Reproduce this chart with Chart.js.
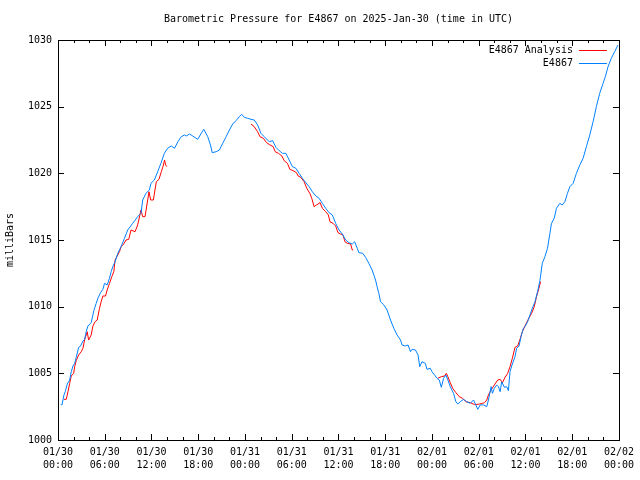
<!DOCTYPE html>
<html>
<head>
<meta charset="utf-8">
<script src="https://cdn.jsdelivr.net/npm/chart.js@4"></script>
<style>
html,body{margin:0;padding:0;background:#fff;}
#wrap{width:640px;height:480px;}
</style>
</head>
<body>
<div id="wrap"><canvas id="c" width="640" height="480"></canvas></div>
<script>
const chartTitle = 'Barometric Pressure for E4867 on 2025-Jan-30 (time in UTC)';
const yAxisTitle = 'milliBars';
const obsLabel = 'E4867';
const anaLabel = 'E4867 Analysis';

// x tick labels every 6 hours from 01/30 00:00 (hours since start)
const xTickHours = [0, 6, 12, 18, 24, 30, 36, 42, 48, 54, 60, 66, 72];
const xTickDates = ['01/30','01/30','01/30','01/30','01/31','01/31','01/31','01/31','02/01','02/01','02/01','02/01','02/02'];
const xTickTimes = ['00:00','06:00','12:00','18:00','00:00','06:00','12:00','18:00','00:00','06:00','12:00','18:00','00:00'];
const yTicks = [1000, 1005, 1010, 1015, 1020, 1025, 1030];

// Observations (hours since 01/30 00:00 UTC, mbar)
const obsHours = [0.35,0.51,0.77,0.93,1.19,1.50,1.70,1.92,2.14,2.34,2.65,2.90,3.20,3.41,3.62,3.84,4.26,4.60,4.90,5.12,5.46,5.76,5.97,6.31,6.61,6.82,7.03,7.33,7.67,8.10,8.53,8.95,9.59,10.23,10.65,10.87,11.29,11.73,11.93,12.37,12.79,13.21,13.65,14.07,14.54,14.96,15.39,15.82,16.24,16.46,16.88,17.30,17.94,18.38,18.71,19.22,19.57,19.79,20.30,20.72,21.14,21.58,22.00,22.42,22.85,23.28,23.57,23.92,24.34,24.77,25.19,25.62,26.05,26.47,27.11,27.54,27.97,28.39,28.81,29.25,29.67,30.09,30.53,30.95,31.37,31.81,32.23,32.65,33.09,33.51,33.93,34.36,34.79,35.21,35.64,36.07,36.49,36.92,37.34,37.77,38.07,38.41,38.62,39.13,39.48,39.90,40.32,40.76,40.96,41.18,41.40,41.82,42.24,42.68,43.10,43.52,43.96,44.16,44.60,44.93,45.24,45.44,45.88,46.21,46.43,46.72,47.15,47.36,47.79,48.00,48.34,48.64,48.94,49.20,49.49,49.79,50.04,50.35,50.77,51.07,51.32,51.63,52.05,52.47,52.91,53.33,53.63,53.88,54.19,54.61,55.03,55.25,55.59,55.76,56.01,56.31,56.53,56.75,56.95,57.30,57.59,57.81,58.02,58.23,58.66,58.87,59.18,59.43,59.73,59.94,60.28,60.58,60.88,61.22,61.55,61.86,62.16,62.50,62.83,63.14,63.34,63.69,63.98,64.42,64.71,65.06,65.39,65.70,66.12,66.54,66.98,67.40,67.82,68.26,68.68,69.10,69.53,69.96,70.25,70.60,71.02,71.45,71.87];
const obsPressure = [1002.68,1002.63,1003.38,1003.62,1004.20,1004.50,1005.12,1005.55,1005.75,1006.20,1006.95,1007.05,1007.42,1007.55,1008.12,1008.55,1008.80,1009.70,1010.25,1010.63,1011.05,1011.30,1011.75,1011.63,1012.13,1012.62,1013.00,1013.37,1014.00,1014.50,1015.13,1015.75,1016.25,1016.75,1017.00,1018.00,1018.50,1018.75,1019.25,1019.50,1020.12,1020.75,1021.50,1021.88,1022.05,1021.88,1022.37,1022.75,1022.88,1022.80,1022.95,1022.80,1022.55,1023.00,1023.30,1022.75,1022.13,1021.55,1021.62,1021.75,1022.25,1022.75,1023.25,1023.70,1023.95,1024.25,1024.43,1024.20,1024.13,1024.05,1024.00,1023.63,1023.00,1022.75,1022.37,1022.45,1021.95,1021.70,1021.50,1021.50,1021.00,1020.50,1020.38,1020.00,1019.63,1019.30,1019.00,1018.62,1018.30,1018.13,1017.75,1017.38,1017.05,1016.88,1016.25,1015.75,1015.45,1015.00,1014.80,1014.70,1014.87,1014.38,1014.05,1014.00,1013.70,1013.25,1012.75,1012.00,1011.50,1011.00,1010.37,1010.13,1009.75,1009.00,1008.38,1007.88,1007.50,1007.13,1007.05,1007.13,1006.62,1006.80,1006.75,1006.38,1005.50,1005.87,1005.75,1005.30,1005.38,1005.12,1004.87,1004.63,1004.50,1003.95,1004.63,1004.87,1004.50,1004.00,1003.50,1002.87,1002.70,1002.87,1003.05,1002.87,1002.75,1003.00,1002.63,1002.30,1002.63,1002.63,1002.50,1003.00,1004.00,1003.50,1003.88,1004.13,1004.00,1003.62,1004.37,1003.95,1004.00,1003.70,1005.12,1005.55,1006.25,1006.88,1007.05,1007.75,1008.38,1008.50,1008.88,1009.38,1009.88,1010.37,1011.12,1011.96,1013.25,1013.75,1014.38,1015.50,1016.25,1016.63,1017.38,1017.75,1017.62,1017.87,1018.50,1019.00,1019.25,1020.00,1020.63,1021.13,1022.00,1022.88,1023.87,1025.00,1026.00,1026.75,1027.25,1028.00,1028.63,1029.12,1029.62];

// Analysis (null values mark gaps)
const anaHours = [0.77,1.06,1.28,1.50,1.70,2.01,2.14,2.34,2.65,2.98,3.20,3.41,3.75,3.93,4.26,4.48,4.77,5.03,5.33,5.54,5.76,6.10,6.31,6.61,6.91,7.16,7.33,7.67,7.89,8.10,8.44,8.73,9.08,9.37,9.89,10.23,10.65,10.87,11.17,11.68,11.89,12.24,12.62,12.96,13.26,13.47,13.68,13.81,13.98,
  19.00,
  24.77,25.19,25.62,25.92,26.35,26.77,27.20,27.62,27.88,28.30,28.74,29.03,29.45,29.76,30.18,30.60,30.82,31.17,31.59,31.93,32.32,32.57,32.87,33.16,33.64,33.93,34.36,34.70,34.91,35.30,35.64,35.94,36.28,36.58,36.83,37.13,37.56,37.77,37.89,
  43.00,
  48.77,49.20,49.62,49.84,50.04,50.35,50.65,51.07,51.50,51.92,52.35,52.91,53.46,53.97,54.48,54.74,55.03,55.25,55.59,56.01,56.44,56.75,57.04,57.39,57.72,58.02,58.32,58.66,59.00,59.30,59.60,59.94,60.36,60.79,61.13,61.42,61.73,61.94];
const anaPressure = [1003.05,1003.05,1003.62,1004.25,1004.80,1005.00,1005.50,1005.95,1006.38,1006.62,1006.88,1007.50,1008.12,1007.50,1007.88,1008.55,1008.88,1009.00,1009.88,1010.37,1010.80,1010.80,1011.25,1011.75,1012.25,1012.62,1013.50,1013.88,1014.12,1014.50,1014.70,1015.00,1015.05,1015.75,1015.62,1016.13,1017.25,1016.75,1016.75,1018.62,1018.00,1018.00,1019.37,1019.55,1020.12,1020.50,1021.00,1020.63,1020.50,
  null,
  1023.70,1023.50,1023.12,1022.75,1022.63,1022.30,1022.13,1022.00,1021.62,1021.50,1021.30,1020.95,1020.75,1020.30,1020.20,1020.05,1019.80,1019.70,1019.37,1018.88,1018.50,1018.13,1017.50,1017.62,1017.80,1017.38,1017.12,1016.88,1016.37,1016.25,1016.05,1015.55,1015.45,1015.38,1014.87,1014.75,1014.70,1014.25,1014.25,
  null,
  1004.63,1004.75,1004.80,1005.00,1004.75,1004.30,1003.88,1003.55,1003.25,1003.13,1002.87,1002.80,1002.66,1002.68,1002.75,1002.80,1003.00,1003.38,1003.75,1004.13,1004.50,1004.55,1004.30,1004.70,1005.00,1005.50,1006.13,1006.95,1007.05,1007.55,1008.12,1008.55,1009.05,1009.50,1010.00,1010.75,1011.38,1011.87];

const FONT = '"DejaVu Sans Mono", "Liberation Mono", monospace';
const RED = '#ff0000';
const BLUE = '#0080ff';

const toPts = (xs, ys) => xs.map((x, i) => ({x: x, y: ys[i]}));

const frame = {
  id: 'frame',
  afterDraw(chart) {
    const ctx = chart.ctx;
    const a = chart.chartArea;
    const xs = chart.scales.x, ys = chart.scales.y;
    ctx.save();
    ctx.strokeStyle = '#000';
    ctx.lineWidth = 1;
    ctx.beginPath();
    // x ticks: minor every 2 h, major every 6 h, inward, mirrored
    for (let h = xs.min; h <= xs.max + 1e-6; h += 2) {
      const px = Math.round(xs.getPixelForValue(h)) + 0.5;
      const len = (Math.abs(h % 6) < 1e-6) ? 6 : 3;
      ctx.moveTo(px, a.bottom); ctx.lineTo(px, a.bottom - len);
      ctx.moveTo(px, a.top); ctx.lineTo(px, a.top + len);
    }
    yTicks.forEach(v => {
      const py = Math.round(ys.getPixelForValue(v)) + 0.5;
      ctx.moveTo(a.left, py); ctx.lineTo(a.left + 6, py);
      ctx.moveTo(a.right, py); ctx.lineTo(a.right - 6, py);
    });
    ctx.stroke();
    ctx.strokeRect(Math.round(a.left) + 0.5, Math.round(a.top) + 0.5, Math.round(a.right - a.left), Math.round(a.bottom - a.top));

    // legend (inside top-right)
    ctx.font = '10px ' + FONT;
    ctx.textAlign = 'right';
    ctx.textBaseline = 'middle';
    ctx.fillStyle = '#000';
    const items = [chart.data.datasets[1], chart.data.datasets[0]];
    items.forEach((ds, i) => {
      const y = a.top + 10 + i * 13;
      ctx.fillText(ds.label, a.right - 46, y);
      ctx.strokeStyle = ds.borderColor;
      ctx.beginPath();
      ctx.moveTo(a.right - 40, Math.round(y) + 0.5);
      ctx.lineTo(a.right - 12, Math.round(y) + 0.5);
      ctx.stroke();
    });
    ctx.restore();
  }
};

new Chart(document.getElementById('c'), {
  type: 'line',
  data: {
    datasets: [
      { label: obsLabel, data: toPts(obsHours, obsPressure), borderColor: BLUE, borderWidth: 1, pointRadius: 0, tension: 0, fill: false, spanGaps: false },
      { label: anaLabel, data: toPts(anaHours, anaPressure), borderColor: RED, borderWidth: 1, pointRadius: 0, tension: 0, fill: false, spanGaps: false }
    ]
  },
  options: {
    responsive: false,
    animation: false,
    devicePixelRatio: 1,
    parsing: true,
    layout: { padding: { left: 0, right: 19, top: 0, bottom: 0 } },
    plugins: {
      legend: { display: false },
      tooltip: { enabled: false },
      title: {
        display: true,
        text: chartTitle,
        fullSize: false,
        color: '#000',
        font: { family: FONT, size: 10, weight: 'normal', lineHeight: 1.2 },
        padding: { top: 13, bottom: 15 }
      }
    },
    scales: {
      x: {
        type: 'linear',
        min: xTickHours[0],
        max: xTickHours[xTickHours.length - 1],
        grid: { display: false, drawTicks: false },
        border: { display: false },
        afterBuildTicks: (s) => { s.ticks = xTickHours.map(v => ({ value: v })); },
        afterFit: (s) => { s.height = 40; },
        ticks: {
          autoSkip: false,
          maxRotation: 0,
          padding: 6,
          color: '#000',
          font: { family: FONT, size: 10, lineHeight: 1.3 },
          callback: (v) => { const i = xTickHours.indexOf(v); return i >= 0 ? [xTickDates[i], xTickTimes[i]] : ''; }
        }
      },
      y: {
        type: 'linear',
        min: yTicks[0],
        max: yTicks[yTicks.length - 1],
        grid: { display: false, drawTicks: false },
        border: { display: false },
        afterBuildTicks: (s) => { s.ticks = yTicks.map(v => ({ value: v })); },
        afterFit: (s) => { s.width = 58; },
        title: {
          display: true,
          text: yAxisTitle,
          color: '#000',
          font: { family: FONT, size: 10, lineHeight: 1.2 },
          padding: { top: 4, bottom: 4 }
        },
        ticks: {
          padding: 6,
          color: '#000',
          font: { family: FONT, size: 10 },
          callback: (v) => String(v)
        }
      }
    }
  },
  plugins: [frame]
});
</script>
</body>
</html>
